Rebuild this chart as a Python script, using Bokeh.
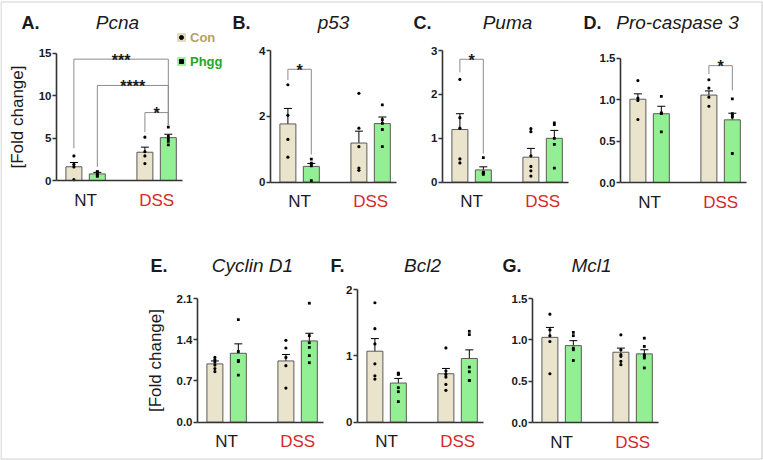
from bokeh.plotting import figure
from bokeh.models import (ColumnDataSource, Whisker, TeeHead, Label, Legend,
                          LegendItem, FixedTicker, Range1d, LinearAxis)
from bokeh.embed import file_html
from bokeh.resources import INLINE
from bokeh.core.properties import value

# ---------------- data ----------------
groups = ["NT", "DSS"]
series = ["Con", "Phgg"]
letters = ["A.", "B.", "C.", "D.", "E.", "F.", "G."]
genes = ["Pcna", "p53", "Puma", "Pro-caspase 3", "Cyclin D1", "Bcl2", "Mcl1"]

# bar order: Con NT, Phgg NT, Con DSS, Phgg DSS
pcna_mean = [1.62, 0.78, 3.33, 5.05]
pcna_sem = [0.50, 0.18, 0.60, 0.40]
pcna_dots = [[2.9, 1.9, 1.6, 0.1], [1.05, 1.0, 0.75, 0.6, 0.5],
             [5.1, 3.4, 2.9, 2.0], [6.3, 5.2, 4.9, 4.6, 4.2]]
pcna_ticks = [0, 5, 10, 15]
pcna_tick_labels = ["0", "5", "10", "15"]

p53_mean = [1.77, 0.48, 1.19, 1.78]
p53_sem = [0.47, 0.09, 0.36, 0.20]
p53_dots = [[2.96, 2.03, 1.3, 0.76], [0.7, 0.58, 0.55, 0.5, 0.05],
            [2.7, 1.64, 1.08, 0.43, 0.36], [2.35, 1.9, 1.79, 1.6, 1.08]]
p53_ticks = [0, 2, 4]
p53_tick_labels = ["0", "2", "4"]

puma_mean = [1.20, 0.28, 0.57, 1.00]
puma_sem = [0.36, 0.07, 0.20, 0.18]
puma_dots = [[2.34, 1.47, 1.23, 0.53, 0.44], [0.56, 0.23, 0.22, 0.2, 0.18],
             [1.22, 1.15, 0.6, 0.36, 0.26, 0.14], [1.35, 1.31, 1.0, 0.86, 0.32]]
puma_ticks = [0, 1, 2, 3]
puma_tick_labels = ["0", "1", "2", "3"]

casp_mean = [1.005, 0.83, 1.055, 0.756]
casp_sem = [0.065, 0.09, 0.05, 0.08]
casp_dots = [[1.23, 1.02, 0.99, 0.76], [1.04, 0.84, 0.83, 0.61],
             [1.24, 1.14, 1.03, 0.92], [1.01, 0.83, 0.81, 0.79, 0.35]]
casp_ticks = [0, 0.5, 1.0, 1.5]
casp_tick_labels = ["0.0", "0.5", "1.0", "1.5"]

ccnd1_mean = [0.99, 1.17, 1.04, 1.38]
ccnd1_sem = [0.05, 0.16, 0.11, 0.13]
ccnd1_dots = [[1.10, 1.06, 1.02, 0.97, 0.91, 0.86], [1.74, 1.2, 1.05, 1.03, 0.80],
              [1.39, 1.26, 1.10, 0.96, 0.58], [2.02, 1.47, 1.35, 1.27, 1.13, 1.01]]
ccnd1_ticks = [0, 0.7, 1.4, 2.1]
ccnd1_tick_labels = ["0.0", "0.7", "1.4", "2.1"]

bcl2_mean = [1.07, 0.59, 0.73, 0.96]
bcl2_sem = [0.19, 0.07, 0.08, 0.13]
bcl2_dots = [[1.80, 1.41, 1.18, 0.88, 0.70, 0.65], [0.74, 0.73, 0.72, 0.52, 0.46, 0.31],
             [1.12, 0.77, 0.72, 0.68, 0.57, 0.48], [1.37, 1.32, 0.83, 0.76, 0.63, 0.63]]
bcl2_ticks = [0, 1, 2]
bcl2_tick_labels = ["0", "1", "2"]

mcl1_mean = [1.03, 0.93, 0.85, 0.83]
mcl1_sem = [0.12, 0.06, 0.05, 0.05]
mcl1_dots = [[1.31, 1.12, 1.05, 0.98, 0.59], [1.09, 1.05, 0.90, 0.88, 0.75],
             [1.06, 0.88, 0.82, 0.80, 0.74, 0.70], [1.02, 0.92, 0.82, 0.80, 0.78, 0.66]]
mcl1_ticks = [0, 0.5, 1.0, 1.5]
mcl1_tick_labels = ["0.0", "0.5", "1.0", "1.5"]

# significance brackets: (from bar, to bar, label); bar index as above
pcna_sig = [(0, 3, "***"), (1, 3, "****"), (2, 3, "*")]
p53_sig = [(0, 1, "*")]
puma_sig = [(0, 1, "*")]
casp_sig = [(2, 3, "*")]

# ---------------- style / layout ----------------
FONT = "Liberation Sans"
CON_FILL = "#ebe4cd"
PHGG_FILL = "#93ef93"
BAR_LINE = "#5a5a5a"
AXIS_COL = "#333333"
TXT = "#1a1a1a"
RED = "#d42a2a"
CON_TXT = "#b3a167"
PHGG_TXT = "#27a527"
W, H = 763, 460
PX_PER_X = 71.0
X0 = -0.41
OFF = 0.165
BAR_W = 0.225
AXIS_LEN = 126

# bracket geometry in data units: (top, left leg bottom, right leg bottom)
pcna_br = [(14.3, 3.8, 6.5), (11.2, 1.6, 6.5), (8.0, 5.7, 6.5)]
p53_br = [(3.43, 3.1, 0.84)]
puma_br = [(2.8, 2.5, 0.65)]
casp_br = [(1.41, 1.31, 1.11)]

panels = [
    dict(mean=pcna_mean, sem=pcna_sem, dots=pcna_dots, ticks=pcna_ticks, tl=pcna_tick_labels, sig=pcna_sig, br=pcna_br),
    dict(mean=p53_mean, sem=p53_sem, dots=p53_dots, ticks=p53_ticks, tl=p53_tick_labels, sig=p53_sig, br=p53_br),
    dict(mean=puma_mean, sem=puma_sem, dots=puma_dots, ticks=puma_ticks, tl=puma_tick_labels, sig=puma_sig, br=puma_br),
    dict(mean=casp_mean, sem=casp_sem, dots=casp_dots, ticks=casp_ticks, tl=casp_tick_labels, sig=casp_sig, br=casp_br),
    dict(mean=ccnd1_mean, sem=ccnd1_sem, dots=ccnd1_dots, ticks=ccnd1_ticks, tl=ccnd1_tick_labels, sig=[], br=[]),
    dict(mean=bcl2_mean, sem=bcl2_sem, dots=bcl2_dots, ticks=bcl2_ticks, tl=bcl2_tick_labels, sig=[], br=[]),
    dict(mean=mcl1_mean, sem=mcl1_sem, dots=mcl1_dots, ticks=mcl1_ticks, tl=mcl1_tick_labels, sig=[], br=[]),
]

# per-panel screen geometry: axis x, zero line y, axis pixel height,
# title y, letter left x, gene centre x
geo = [
    dict(ax=56, y0=180.0, axh=127.3, ty=22, lx=21, gx=117, ylab=True),
    dict(ax=270, y0=181.7, axh=131.7, ty=22, lx=232, gx=333, ylab=False),
    dict(ax=442, y0=181.7, axh=131.7, ty=22, lx=413, gx=507, ylab=False),
    dict(ax=620, y0=182.0, axh=124.3, ty=22, lx=583, gx=677, ylab=False),
    dict(ax=197, y0=421.7, axh=123.7, ty=265, lx=150, gx=252, ylab=True),
    dict(ax=357, y0=421.7, axh=132.7, ty=265, lx=330, gx=422, ylab=False),
    dict(ax=532, y0=422.0, axh=124.0, ty=265, lx=502, gx=591, ylab=False),
]

bar_x = [0 - OFF, 0 + OFF, 1 - OFF, 1 + OFF]
fills = [CON_FILL, PHGG_FILL, CON_FILL, PHGG_FILL]
markers = ["circle", "square", "circle", "square"]

p = figure(width=W, height=H, x_range=Range1d(0, W), y_range=Range1d(H, 0),
           output_backend="svg", toolbar_location=None,
           x_axis_location=None, y_axis_location=None, min_border=0)
p.outline_line_color = None
p.grid.visible = False
p.background_fill_color = "white"
p.border_fill_color = "white"

# thin light frame around the whole figure image
p.quad(left=[0.5], right=[761.5], top=[1.5], bottom=[458.5],
       fill_color=None, line_color="#d2d2d2", line_width=1.2)


def txt_label(xr, yr, x, y, text, **kw):
    base = dict(text_font=FONT, x_range_name=xr, y_range_name=yr)
    base.update(kw)
    p.add_layout(Label(x=x, y=y, text=text, **base))


for i, d in enumerate(panels):
    g = geo[i]
    xr, yr = f"x{i}", f"y{i}"
    top_tick = d["ticks"][-1]
    ppy = g["axh"] / top_tick
    p.extra_x_ranges[xr] = Range1d(X0 - g["ax"] / PX_PER_X, X0 + (W - g["ax"]) / PX_PER_X)
    p.extra_y_ranges[yr] = Range1d(-(H - g["y0"]) / ppy, g["y0"] / ppy)
    kw = dict(x_range_name=xr, y_range_name=yr)

    src = ColumnDataSource(dict(x=bar_x, top=d["mean"], fill=fills))
    p.vbar(x="x", top="top", width=BAR_W, fill_color="fill",
           line_color=BAR_LINE, line_width=1, source=src, **kw)

    for k in range(4):
        ys = d["dots"][k]
        p.scatter([bar_x[k]] * len(ys), ys, size=3.2 if markers[k] == "circle" else 2.8,
                  marker=markers[k], fill_color="black", line_color=None, **kw)

    wsrc = ColumnDataSource(dict(base=bar_x,
                                 upper=[m + s for m, s in zip(d["mean"], d["sem"])],
                                 lower=[m - s for m, s in zip(d["mean"], d["sem"])]))
    p.add_layout(Whisker(base="base", upper="upper", lower="lower", source=wsrc,
                         dimension="height", line_color="black", line_width=1,
                         upper_head=TeeHead(size=8, line_color="black", line_width=1),
                         lower_head=TeeHead(size=8, line_color="black", line_width=1),
                         **kw))

    for (a, b, lab), (top, yl, yrb) in zip(d["sig"], d["br"]):
        xa, xb = bar_x[a], bar_x[b]
        p.line([xa, xa, xb, xb], [yl, top, top, yrb], line_color="#8c8c8c",
               line_width=1, **kw)
        p.text(x=[(xa + xb) / 2], y=[top], text=[lab], text_align="center",
               text_baseline="alphabetic", text_font=value(FONT),
               text_font_size="16px", text_font_style="bold", text_color=TXT,
               y_offset=1, **kw)

    # axes (fixed in place inside the page)
    xa_ = LinearAxis(ticker=FixedTicker(ticks=[]), fixed_location=0,
                     bounds=(X0, X0 + AXIS_LEN / PX_PER_X),
                     major_label_text_font_size="0px", axis_line_color=AXIS_COL,
                     axis_line_width=1.6, major_tick_line_color=None,
                     minor_tick_line_color=None, **kw)
    p.add_layout(xa_, "below")

    ya_ = LinearAxis(ticker=FixedTicker(ticks=d["ticks"]), fixed_location=X0,
                     bounds=(0, top_tick),
                     major_label_overrides={t: s for t, s in zip(d["ticks"], d["tl"])},
                     axis_line_color=AXIS_COL, axis_line_width=1.6,
                     major_tick_line_color=AXIS_COL, major_tick_line_width=1.4,
                     major_tick_out=4, major_tick_in=0, minor_tick_line_color=None,
                     major_label_standoff=1, major_label_text_font=FONT,
                     major_label_text_font_size="11.5px", major_label_text_font_style="bold",
                     major_label_text_color=TXT, **kw)
    if g["ylab"]:
        ya_.axis_label = "[Fold change]"
        ya_.axis_label_text_font = FONT
        ya_.axis_label_text_font_size = "17px"
        ya_.axis_label_text_font_style = "normal"
        ya_.axis_label_text_color = TXT
        ya_.axis_label_standoff = 9
    p.add_layout(ya_, "left")

    # group labels under the axis
    for gi, gname in enumerate(groups):
        txt_label(xr, yr, gi, 0, gname, y_offset=-10, text_align="center",
                  text_baseline="top", text_font_size="17px",
                  text_color=TXT if gi == 0 else RED)
    # titles
    ty_off = g["y0"] - g["ty"]
    txt_label(xr, yr, X0, 0, letters[i], x_offset=g["lx"] - g["ax"], y_offset=ty_off,
              text_align="left", text_baseline="middle", text_font_size="18px",
              text_font_style="bold", text_color=TXT)
    txt_label(xr, yr, X0, 0, genes[i], x_offset=g["gx"] - g["ax"], y_offset=ty_off,
              text_align="center", text_baseline="middle", text_font_size="19px",
              text_font_style="italic", text_color=TXT)

# legend (panel A)
nan = float("nan")
con_r = p.vbar(x=[nan], top=[nan], width=1, fill_color="#e4dbbf", line_color="#e4dbbf")
con_d = p.scatter(x=[nan], y=[nan], marker="circle", fill_color="black", line_color="black")
ph_r = p.vbar(x=[nan], top=[nan], width=1, fill_color=PHGG_FILL, line_color="#a6f3a6")
ph_d = p.scatter(x=[nan], y=[nan], marker="square", fill_color="black", line_color="black")
for item, col, cy in ((LegendItem(label=series[0], renderers=[con_r, con_d]), CON_TXT, 37),
                      (LegendItem(label=series[1], renderers=[ph_r, ph_d]), PHGG_TXT, 61)):
    lg = Legend(items=[item], location=(176, H - cy - 7.5), orientation="vertical",
                glyph_width=10, glyph_height=10, label_standoff=4,
                label_text_font=FONT, label_text_font_size="13px",
                label_text_font_style="bold", label_text_color=col,
                label_height=15, padding=0, margin=0, spacing=0,
                background_fill_alpha=0, border_line_alpha=0)
    p.add_layout(lg)

open("out.html", "w").write(file_html(p, INLINE))
